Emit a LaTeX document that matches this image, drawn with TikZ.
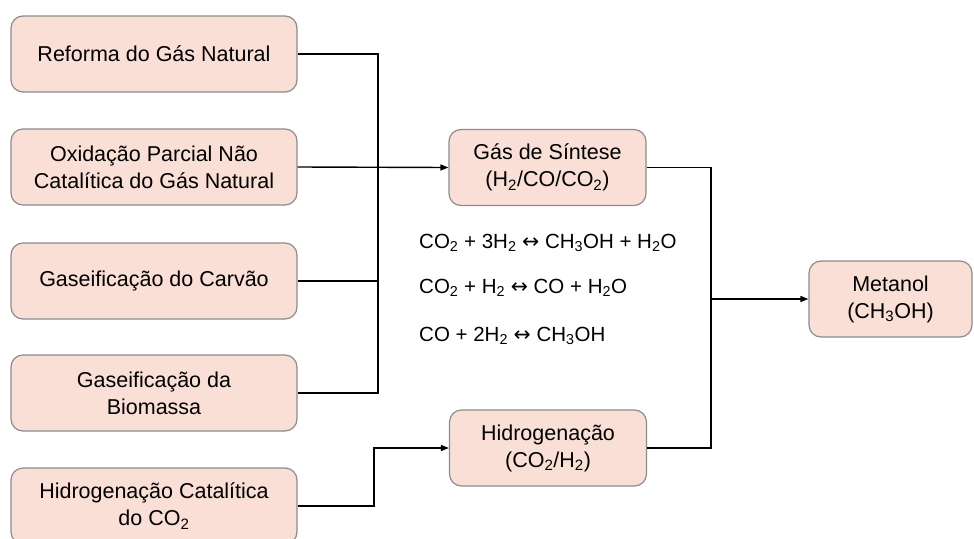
\documentclass[tikz,border=0pt]{standalone}
\usepackage{fontspec}
\setmainfont{Liberation Sans}
\newfontfamily\arrowfont{DejaVu Sans}
\usetikzlibrary{arrows.meta}
\definecolor{boxfill}{HTML}{F9DFD6}
\definecolor{boxdraw}{HTML}{8C8C8C}
\newcommand{\sub}[1]{\textsubscript{#1}}
\newcommand{\eqarr}{{\arrowfont ↔}}
\begin{document}
\begin{tikzpicture}[x=1pt,y=-1pt,
  proc/.style={draw=boxdraw, line width=1.2pt, fill=boxfill, rounded corners=12pt,
    align=center, font=\fontsize{21.5}{27}\selectfont, inner sep=0pt},
  leftbox/.style={proc, minimum width=286pt, minimum height=76pt},
  midbox/.style={proc, minimum width=197pt, minimum height=76pt},
  eq/.style={anchor=west, font=\fontsize{20.5}{24}\selectfont, inner sep=0pt},
  link/.style={line width=1.4pt},
  arr/.style={link, -{Triangle[length=8pt,width=6pt]}}]
\useasboundingbox (0,0) rectangle (974,538);
\fill[white] (0,0) rectangle (974,538);

\node[leftbox] (g1) at (154,54) {Reforma do Gás Natural};
\node[leftbox] (g2) at (154,167) {Oxidação Parcial Não\\Catalítica do Gás Natural};
\node[leftbox] (g3) at (154,281) {Gaseificação do Carvão};
\node[leftbox] (g4) at (154,393) {Gaseificação da\\Biomassa};
\node[leftbox] (g5) at (154,506) {Hidrogenação Catalítica\\do CO\sub{2}};

\node[midbox] (syn) at (547.5,167.5) {Gás de Síntese\\(H\sub{2}/CO/CO\sub{2})};
\node[midbox] (hid) at (548,448) {Hidrogenação\\(CO\sub{2}/H\sub{2})};
\node[proc, minimum width=163pt, minimum height=76pt] (met) at (890.5,299) {Metanol\\(CH\sub{3}OH)};

\node[eq] (e1) at (419,243) {CO\sub{2} + 3H\sub{2} \eqarr{} CH\sub{3}OH + H\sub{2}O};
\node[eq] (e2) at (419,288) {CO\sub{2} + H\sub{2} \eqarr{} CO + H\sub{2}O};
\node[eq] (e3) at (419,336) {CO + 2H\sub{2} \eqarr{} CH\sub{3}OH};

\coordinate (bt) at (378,54);
\coordinate (bb) at (378,393);
\coordinate (rt) at (711,167.5);
\coordinate (rb) at (711,448);
\coordinate (hk) at (374,506);

\draw[link] (g1.east) -- (bt) -- (bb) -- (g4.east);
\draw[link] (g3.east) -- (g3.east -| bt);
\draw[arr] (g2.east) -- (syn.west);
\draw[arr] (g5.east) -- (hk) |- (hid.west);
\draw[link] (syn.east) -- (rt) -- (rb) -- (hid.east);
\draw[arr] (met.west -| rt) -- (met.west);
\end{tikzpicture}
\end{document}
